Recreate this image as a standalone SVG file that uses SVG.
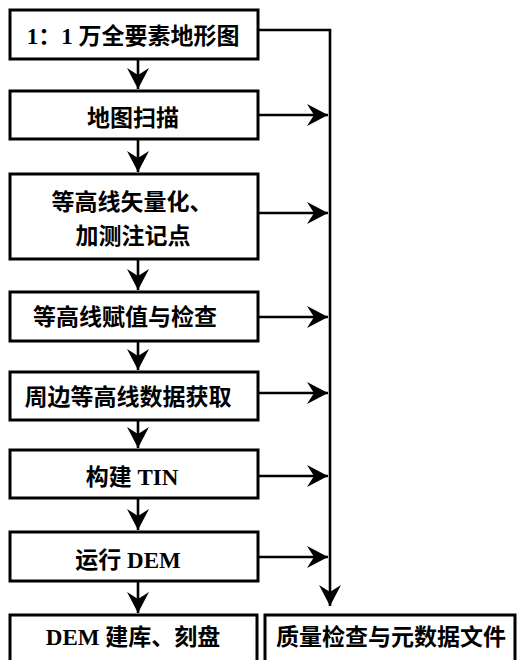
<svg xmlns="http://www.w3.org/2000/svg" width="517" height="660" viewBox="0 0 517 660">
<style>
.box{fill:#fff;stroke:#000;stroke-width:3}
.t{font-family:"Liberation Serif","Noto Sans CJK SC",serif;font-size:23px;font-weight:bold;text-anchor:middle;dominant-baseline:central;fill:#000}
.c{fill:none;stroke:#000;stroke-width:2.6}
</style>
<defs>
<marker id="ah" markerUnits="userSpaceOnUse" markerWidth="24" markerHeight="24" viewBox="-22 -12 24 24" refX="0" refY="0" orient="auto">
<path d="M0,0 L-21,-11 L-14,0 L-21,11 Z" fill="#000"/>
</marker>
</defs>
<g id="connectors">
<path class="c" d="M258,30 H330 V606" marker-end="url(#ah)"/>
<path class="c" d="M258,115 H328" marker-end="url(#ah)"/>
<path class="c" d="M258,213 H328" marker-end="url(#ah)"/>
<path class="c" d="M258,317 H328" marker-end="url(#ah)"/>
<path class="c" d="M258,393 H328" marker-end="url(#ah)"/>
<path class="c" d="M258,476 H328" marker-end="url(#ah)"/>
<path class="c" d="M258,557 H328" marker-end="url(#ah)"/>
<path class="c" d="M138,59 V89" marker-end="url(#ah)"/>
<path class="c" d="M138,140 V172" marker-end="url(#ah)"/>
<path class="c" d="M138,260 V290" marker-end="url(#ah)"/>
<path class="c" d="M138,342 V370" marker-end="url(#ah)"/>
<path class="c" d="M138,421 V448" marker-end="url(#ah)"/>
<path class="c" d="M138,499 V530" marker-end="url(#ah)"/>
<path class="c" d="M138,582 V613" marker-end="url(#ah)"/>
</g>
<g id="n1"><rect class="box" x="10" y="10" width="248" height="49"/><text class="t" x="133" y="36">1：1 万全要素地形图</text></g>
<g id="n2"><rect class="box" x="10" y="91" width="248" height="48"/><text class="t" x="133" y="118">地图扫描</text></g>
<g id="n3"><rect class="box" x="10" y="174" width="248" height="85"/><text class="t" x="132" y="202">等高线矢量化、</text><text class="t" x="133" y="236">加测注记点</text></g>
<g id="n4"><rect class="box" x="10" y="292" width="248" height="49"/><text class="t" x="125" y="317">等高线赋值与检查</text></g>
<g id="n5"><rect class="box" x="10" y="372" width="248" height="48"/><text class="t" x="128" y="397">周边等高线数据获取</text></g>
<g id="n6"><rect class="box" x="10" y="450" width="248" height="48"/><text class="t" x="132" y="477">构建 TIN</text></g>
<g id="n7"><rect class="box" x="10" y="532" width="248" height="49"/><text class="t" x="128" y="560">运行 DEM</text></g>
<g id="n8"><rect class="box" x="10" y="615" width="247" height="60"/><text class="t" x="133" y="637">DEM 建库、刻盘</text></g>
<g id="n9"><rect class="box" x="265" y="615" width="250" height="60"/><text class="t" x="391" y="637">质量检查与元数据文件</text></g>
</svg>
